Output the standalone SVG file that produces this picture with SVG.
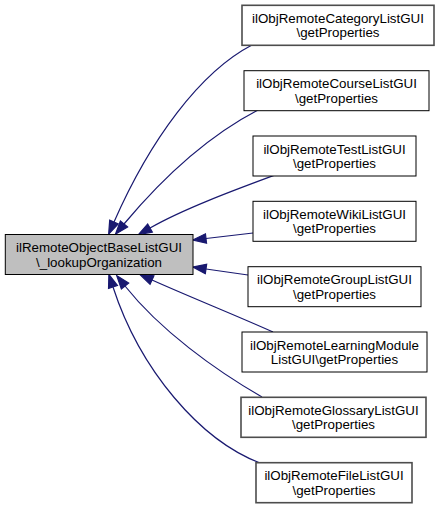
<svg xmlns="http://www.w3.org/2000/svg" width="437" height="509" viewBox="0 0 437 509">
<defs>
<style>
.n rect{fill:#ffffff;stroke:#000000;stroke-width:1}
.n.g rect{stroke:#4d4d4d;stroke-width:1.6}
.n.m rect{fill:#bfbfbf}
.n text{font-family:"Liberation Sans",Arial,Helvetica,sans-serif;font-size:13.33px;fill:#000000;text-anchor:middle}
#edges path{fill:none;stroke:#191970;stroke-width:1.2;marker-end:url(#arr)}
</style>
<marker id="arr" markerUnits="userSpaceOnUse" markerWidth="16" markerHeight="12" refX="0" refY="0" viewBox="-1 -6 16 12" orient="auto" overflow="visible">
<path d="M0,-4.7 L13.3,0 L0,4.7 Z" fill="#191970" stroke="#191970" stroke-width="1.2"/>
</marker>
</defs>
<rect x="0" y="0" width="437" height="509" fill="#ffffff"/>
<g id="edges">
<path d="M252,45 C200,72 150,140 114,222"/>
<path d="M258,110 C210,135 165,175 124,224"/>
<path d="M275,175 C240,188 185,208 150,228"/>
<path d="M253,233 L206,238.5"/>
<path d="M248,275 L206,269"/>
<path d="M273,332 C235,315 190,297 152,280"/>
<path d="M262,397 C215,370 160,330 125,286"/>
<path d="M260,463 C200,440 140,370 113,287"/>
</g>
<g id="main" class="n m"><rect x="5.3" y="234.5" width="187.7" height="40"/><text x="99" y="252">ilRemoteObjectBaseListGUI</text><text x="99" y="266.5">\_lookupOrganization</text></g>
<g id="category" class="n g"><rect x="242" y="5.3" width="192" height="40"/><text x="338" y="22.8">ilObjRemoteCategoryListGUI</text><text x="338" y="37.3">\getProperties</text></g>
<g id="course" class="n"><rect x="244" y="70.7" width="185" height="40"/><text x="336.5" y="88.2">ilObjRemoteCourseListGUI</text><text x="336.5" y="102.7">\getProperties</text></g>
<g id="test" class="n"><rect x="253" y="136" width="163" height="40"/><text x="334.5" y="153.5">ilObjRemoteTestListGUI</text><text x="334.5" y="168">\getProperties</text></g>
<g id="wiki" class="n"><rect x="253" y="201.3" width="163" height="40"/><text x="334.5" y="218.8">ilObjRemoteWikiListGUI</text><text x="334.5" y="233.3">\getProperties</text></g>
<g id="group" class="n"><rect x="248" y="266.7" width="173" height="40"/><text x="334.5" y="284.2">ilObjRemoteGroupListGUI</text><text x="334.5" y="298.7">\getProperties</text></g>
<g id="learningmodule" class="n"><rect x="242" y="332" width="185" height="40"/><text x="334.5" y="349.5">ilObjRemoteLearningModule</text><text x="334.5" y="364">ListGUI\getProperties</text></g>
<g id="glossary" class="n g"><rect x="241" y="397.3" width="185" height="40"/><text x="333.5" y="414.8">ilObjRemoteGlossaryListGUI</text><text x="333.5" y="429.3">\getProperties</text></g>
<g id="file" class="n g"><rect x="256" y="462.7" width="156" height="40"/><text x="334" y="480.2">ilObjRemoteFileListGUI</text><text x="334" y="494.7">\getProperties</text></g>
</svg>
